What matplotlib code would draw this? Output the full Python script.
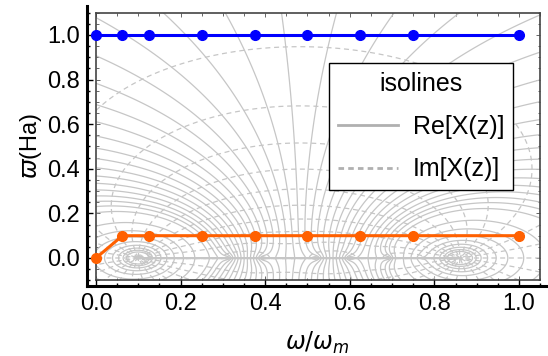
import numpy as np
import matplotlib
matplotlib.use("Agg")
import matplotlib.pyplot as plt
from matplotlib.lines import Line2D
from matplotlib.ticker import MultipleLocator

plt.rcParams['font.family'] = ['Liberation Sans', 'DejaVu Sans']
plt.rcParams['mathtext.fontset'] = 'dejavusans'

# points of the two curves
omega = [0.0, 0.0625, 0.125, 0.25, 0.375, 0.5, 0.625, 0.75, 1.0]
varpi_blue = [1.0, 1.0, 1.0, 1.0, 1.0, 1.0, 1.0, 1.0, 1.0]
varpi_orange = [0.0, 0.1, 0.1, 0.1, 0.1, 0.1, 0.1, 0.1, 0.1]

# singularities of X(z) on the real axis (background isolines)
sing_pos = [0.10, 0.86, 0.31, 0.395, 0.52, 0.60, 0.69, 0.77]
sing_w = [1.0, -1.0, 0.09, -0.09, 0.09, -0.09, 0.09, -0.09]

fig = plt.figure(figsize=(5.48, 3.56), dpi=100)
ax = fig.add_axes([87/548, 70/356, 461/548, 280/356])
ax.set_xlim(-0.0213, 1.0686)
ax.set_ylim(-0.1256, 1.130)
ax.patch.set_alpha(0)

# contour plot region
bg = ax.inset_axes([0, -0.1, 1.05, 1.2], transform=ax.transData, zorder=0.5)
xs = np.linspace(0, 1.05, 421)
ys = np.linspace(-0.1, 1.1, 481)
xx, yy = np.meshgrid(xs, ys)
zz = xx + 1j * yy
X = np.zeros_like(zz)
for p, w in zip(sing_pos, sing_w):
    X += w * np.log(zz - p)

re_levels = np.concatenate([-np.arange(3.4, 1.3, -0.25), np.arange(-1.3, 1.3, 0.075),
                            np.arange(1.35, 3.5, 0.25)])
gray = '#c6c6c6'
bg.contour(xx, yy, X.real, levels=re_levels, colors=gray,
           linewidths=0.9, linestyles='solid')
bg.contour(xx, yy, X.imag, levels=np.arange(-np.pi, np.pi, np.pi / 12), colors=gray,
           linewidths=0.9, linestyles=[(0, (4, 3))])
bg.set_xlim(0, 1.05)
bg.set_ylim(-0.1, 1.1)
bg.xaxis.set_major_locator(MultipleLocator(0.2))
bg.xaxis.set_minor_locator(MultipleLocator(0.05))
bg.yaxis.set_major_locator(MultipleLocator(0.2))
bg.yaxis.set_minor_locator(MultipleLocator(0.05))
bg.tick_params(which='both', direction='in', top=True, right=True,
               labelbottom=False, labelleft=False, color='#666666', width=0.7)
bg.tick_params(which='major', length=3)
bg.tick_params(which='minor', length=1.8)
for s in bg.spines.values():
    s.set_color('#444444')
    s.set_linewidth(1.2)

ax.plot(omega, varpi_blue, '-o', color='#0000ff', lw=2.2, ms=7, zorder=4, clip_on=False)
ax.plot(omega, varpi_orange, '-o', color='#ff6000', lw=2.2, ms=7, zorder=4, clip_on=False)

for side in ['top', 'right']:
    ax.spines[side].set_visible(False)
for side in ['left', 'bottom']:
    ax.spines[side].set_linewidth(2.2)
    ax.spines[side].set_zorder(3)

ax.xaxis.set_major_locator(MultipleLocator(0.2))
ax.xaxis.set_minor_locator(MultipleLocator(0.05))
ax.yaxis.set_major_locator(MultipleLocator(0.2))
ax.yaxis.set_minor_locator(MultipleLocator(0.05))
ax.tick_params(which='both', direction='in', labelsize=17, pad=5, width=1)
ax.tick_params(which='major', length=4)
ax.tick_params(which='minor', length=2.5)

ax.set_xlabel(r'$\omega/\omega_m$', fontsize=17, labelpad=11)
ax.set_ylabel(r'$\varpi$(Ha)', fontsize=17, labelpad=2)

handles = [Line2D([], [], color='#b0b0b0', lw=2),
           Line2D([], [], color='#b0b0b0', lw=2, ls=(0, (2, 1.5)))]
leg = ax.legend(handles, ['Re[X(z)]', 'Im[X(z)]'], title='isolines',
                loc='upper right', bbox_to_anchor=(0.924, 0.796), borderaxespad=0,
                fontsize=18, title_fontsize=18, frameon=True, fancybox=False,
                framealpha=1, edgecolor='black', handlelength=2.4,
                handletextpad=0.6, labelspacing=0.75, borderpad=0.35)
leg.get_frame().set_linewidth(1)
leg.set_zorder(5)

fig.savefig('out.png', dpi=100)
